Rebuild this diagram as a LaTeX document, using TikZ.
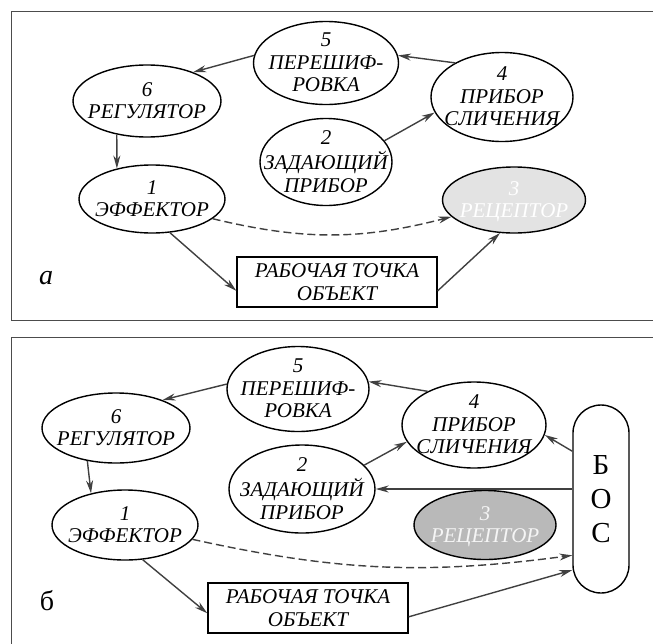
\documentclass[tikz,border=0pt]{standalone}
\usepackage{fontspec}
\setmainfont{Liberation Serif}
\usetikzlibrary{arrows.meta, shapes.geometric}
% text that does not stretch its ellipse
\newcommand\inell[1]{\makebox[0pt]{\smash{\raisebox{-7pt}{\begin{tabular}{@{}c@{}}#1\end{tabular}}}}}

\begin{document}
\begin{tikzpicture}[x=1pt, y=1pt,
    font=\fontsize{21}{22.5}\selectfont\itshape,
    >={Stealth[length=13pt, width=7pt, fill=gray]},
    block/.style n args={2}{ellipse, draw=black, line width=1.4pt, align=center,
        inner sep=0pt, minimum width=#1, minimum height=#2},
    object/.style={rectangle, draw=black, line width=1.4pt, align=center,
        inner sep=0pt, minimum width=200, minimum height=50},
    bos/.style={rectangle, rounded corners=28pt, draw=black, line width=1.4pt,
        align=center, inner sep=0pt, minimum width=56, minimum height=188,
        font=\fontsize{29}{34}\selectfont\upshape},
    tag/.style={font=\fontsize{28}{28}\selectfont\itshape},
    panel/.style={draw=black!70, line width=1pt},
    link/.style={->, line width=1.4pt, draw=black!75},
    fb/.style={link, dash pattern=on 8pt off 4pt}
  ]
    \clip (0,0) rectangle (653,-643);

    % panel a
    \draw[panel] (11,-11) rectangle (670,-320);
    \node[block={148}{72}] (a6) at (147,-101) {\inell{6\\РЕГУЛЯТОР}};
    \node[block={145}{83}] (a5) at (326,-63) {\inell{5\\ПЕРЕШИФ-\\РОВКА}};
    \node[block={142}{89}] (a4) at (502,-97) {\inell{4\\ПРИБОР\\СЛИЧЕНИЯ}};
    \node[block={132}{87}] (a2) at (326,-162) {\inell{2\\ЗАДАЮЩИЙ\\ПРИБОР}};
    \node[block={146}{68}] (a1) at (152,-199) {\inell{1\\ЭФФЕКТОР}};
    \node[block={143}{66}, fill=gray!22, text=white] (a3) at (514,-200) {\inell{3\\РЕЦЕПТОР}};
    \node[object] (aobj) at (337,-282) {РАБОЧАЯ ТОЧКА\\ОБЪЕКТ};
    \node[tag] (atag) at (46,-278) {а};
    \draw[link] (a5.174) -- (a6.32);
    \draw[link] (a4.144) -- (a5.6);
    \draw[link] (a2.20) -- (a4.193);
    \draw[link] (a6.228) -- (a1.139);
    \draw[fb] (a1.342) to[bend right=14] (a3.195);
    \draw[link] (a1.298) -- (aobj.185);
    \draw[link] (aobj.355) -- (a3.247);

    % panel b
    \draw[panel] (11,-337) rectangle (670,-660);
    \node[block={148}{70}] (b6) at (116,-428) {\inell{6\\РЕГУЛЯТОР}};
    \node[block={142}{85}] (b5) at (298,-389) {\inell{5\\ПЕРЕШИФ-\\РОВКА}};
    \node[block={144}{86}] (b4) at (474,-425) {\inell{4\\ПРИБОР\\СЛИЧЕНИЯ}};
    \node[block={146}{88}] (b2) at (302,-489) {\inell{2\\ЗАДАЮЩИЙ\\ПРИБОР}};
    \node[block={146}{70}] (b1) at (125,-525) {\inell{1\\ЭФФЕКТОР}};
    \node[block={142}{69}, fill=gray!55, text=gray!8] (b3) at (485,-525) {\inell{3\\РЕЦЕПТОР}};
    \node[bos] (bbos) at (601,-499) {Б\\О\\С};
    \node[object] (bobj) at (308,-608) {РАБОЧАЯ ТОЧКА\\ОБЪЕКТ};
    \node[tag, font=\fontsize{28}{28}\selectfont\upshape] (btag) at (47,-601) {б};
    \draw[link] (b5.176) -- (b6.31);
    \draw[link] (b4.144) -- (b5.6);
    \draw[link] (b2.21) -- (b4.194);
    \draw[link] (b6.229) -- (b1.137);
    \draw[link] (bbos.121) -- (b4.352);
    \draw[link] (b2.east -| bbos.west) -- (b2.east);
    \draw[fb] (b1.348) to[bend right=10] (bbos.243);
    \draw[link] (b1.297) -- (bobj.183);
    \draw[link] (bobj.355) -- (bbos.248);
  \end{tikzpicture}
\end{document}
